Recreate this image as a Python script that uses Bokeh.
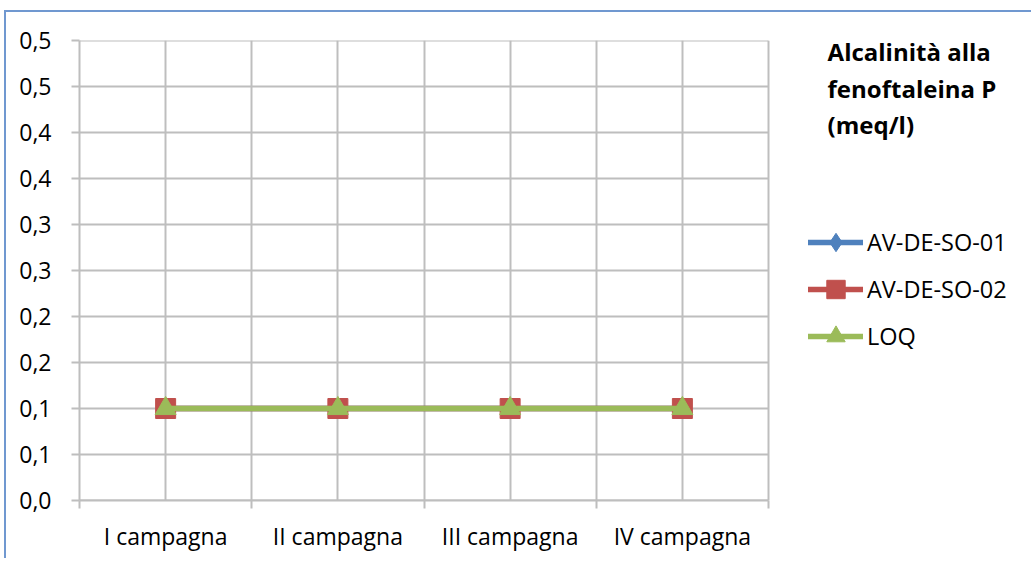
from bokeh.plotting import figure
from bokeh.models import Range1d, FixedTicker, Legend, LegendItem, Label
from bokeh.embed import file_html
from bokeh.resources import INLINE

categories = ["I campagna", "II campagna", "III campagna", "IV campagna"]
av_de_so_01 = [0.1, 0.1, 0.1, 0.1]
av_de_so_02 = [0.1, 0.1, 0.1, 0.1]
loq = [0.1, 0.1, 0.1, 0.1]
series_names = ["AV-DE-SO-01", "AV-DE-SO-02", "LOQ"]
y_ticks = [0.0, 0.05, 0.1, 0.15, 0.2, 0.25, 0.3, 0.35, 0.4, 0.45, 0.5]
y_tick_labels = ["0,0", "0,1", "0,1", "0,2", "0,2", "0,3", "0,3", "0,4", "0,4", "0,5", "0,5"]
title_lines = ["Alcalinità alla", "fenoftaleina P", "(meq/l)"]

FONT = "Open Sans"
GRID = "#BEBEBE"

n = len(categories)
x_pos = [i + 0.5 for i in range(n)]
boundaries = [float(i) for i in range(n + 1)]

# layout: the plotted area (categories) is 689px wide, the frame extends to the right
data_w = 689
frame_w = 948
x_end = n * frame_w / data_w
ymax = y_ticks[-1]

p = figure(frame_width=frame_w, frame_height=460,
           x_range=Range1d(0, x_end), y_range=Range1d(0, ymax),
           output_backend="svg", toolbar_location=None,
           min_border_left=73, min_border_right=4, min_border_top=28, min_border_bottom=58)
p.styles = {"margin": "10px 0px 0px 4px",
            "border-left": "2px solid #7098D0", "border-top": "2px solid #7098D0"}
p.outline_line_color = None
p.background_fill_color = "white"
p.border_fill_color = "white"

# x axis: labels at category centres, tick marks at category boundaries
xt = FixedTicker(ticks=x_pos, minor_ticks=boundaries)
p.xaxis.ticker = xt
p.xaxis.bounds = (0, n)
p.xaxis.major_label_overrides = {x: c for x, c in zip(x_pos, categories)}
p.xaxis.major_tick_out = 0
p.xaxis.major_tick_in = 0
p.xaxis.minor_tick_out = 8
p.xaxis.minor_tick_in = 0
p.xaxis.minor_tick_line_color = GRID
p.xaxis.minor_tick_line_width = 2
p.xaxis.axis_line_color = GRID
p.xaxis.axis_line_width = 2
p.xaxis.major_label_standoff = 11
p.xaxis.major_label_text_font = FONT
p.xaxis.major_label_text_font_size = "23px"
p.xaxis.major_label_text_color = "black"

p.xgrid.ticker = xt
p.xgrid.grid_line_color = GRID
p.xgrid.grid_line_width = 2
p.xgrid.minor_grid_line_color = GRID
p.xgrid.minor_grid_line_width = 2

yt = FixedTicker(ticks=y_ticks, minor_ticks=[])
p.yaxis.ticker = yt
p.yaxis.major_label_overrides = {t: l for t, l in zip(y_ticks, y_tick_labels)}
p.yaxis.major_tick_out = 8
p.yaxis.major_tick_in = 0
p.yaxis.major_tick_line_color = GRID
p.yaxis.major_tick_line_width = 2
p.yaxis.minor_tick_line_color = None
p.yaxis.axis_line_color = GRID
p.yaxis.axis_line_width = 2
p.yaxis.major_label_standoff = 20
p.yaxis.major_label_text_font = FONT
p.yaxis.major_label_text_font_size = "23px"
p.yaxis.major_label_text_color = "black"

# horizontal grid lines limited to the category area
p.ygrid.visible = False
p.segment(x0=[0] * len(y_ticks), x1=[n] * len(y_ticks), y0=y_ticks, y1=y_ticks,
          line_color=GRID, line_width=2, level="underlay")

colors = ["#4F81BD", "#C0504D", "#9BBB59"]
markers = ["diamond", "square", "triangle"]
sizes = [21, 20, 21]
values = [av_de_so_01, av_de_so_02, loq]

items = []
for name, vals, col, mk, sz in zip(series_names, values, colors, markers, sizes):
    lr = p.line(x_pos, vals, line_color=col, line_width=5.5, line_cap="round")
    sr = p.scatter(x_pos, vals, marker=mk, size=sz, fill_color=col, line_color=col)
    items.append(LegendItem(label=name, renderers=[lr, sr]))

legend = Legend(items=items, location=(729, 141), margin=0, padding=0,
                glyph_width=55, glyph_height=46, label_height=46, spacing=1,
                label_standoff=4, border_line_color=None, background_fill_alpha=0,
                label_text_font=FONT, label_text_font_size="23.5px",
                label_text_color="black")
p.add_layout(legend, "center")

title = Label(x=4.343, y=0.506, text="\n".join(title_lines), text_baseline="top",
              text_align="left", text_font=FONT, text_font_size="24px",
              text_font_style="bold", text_color="black", text_line_height=1.11)
p.add_layout(title)

open("out.html", "w").write(file_html(p, INLINE))
